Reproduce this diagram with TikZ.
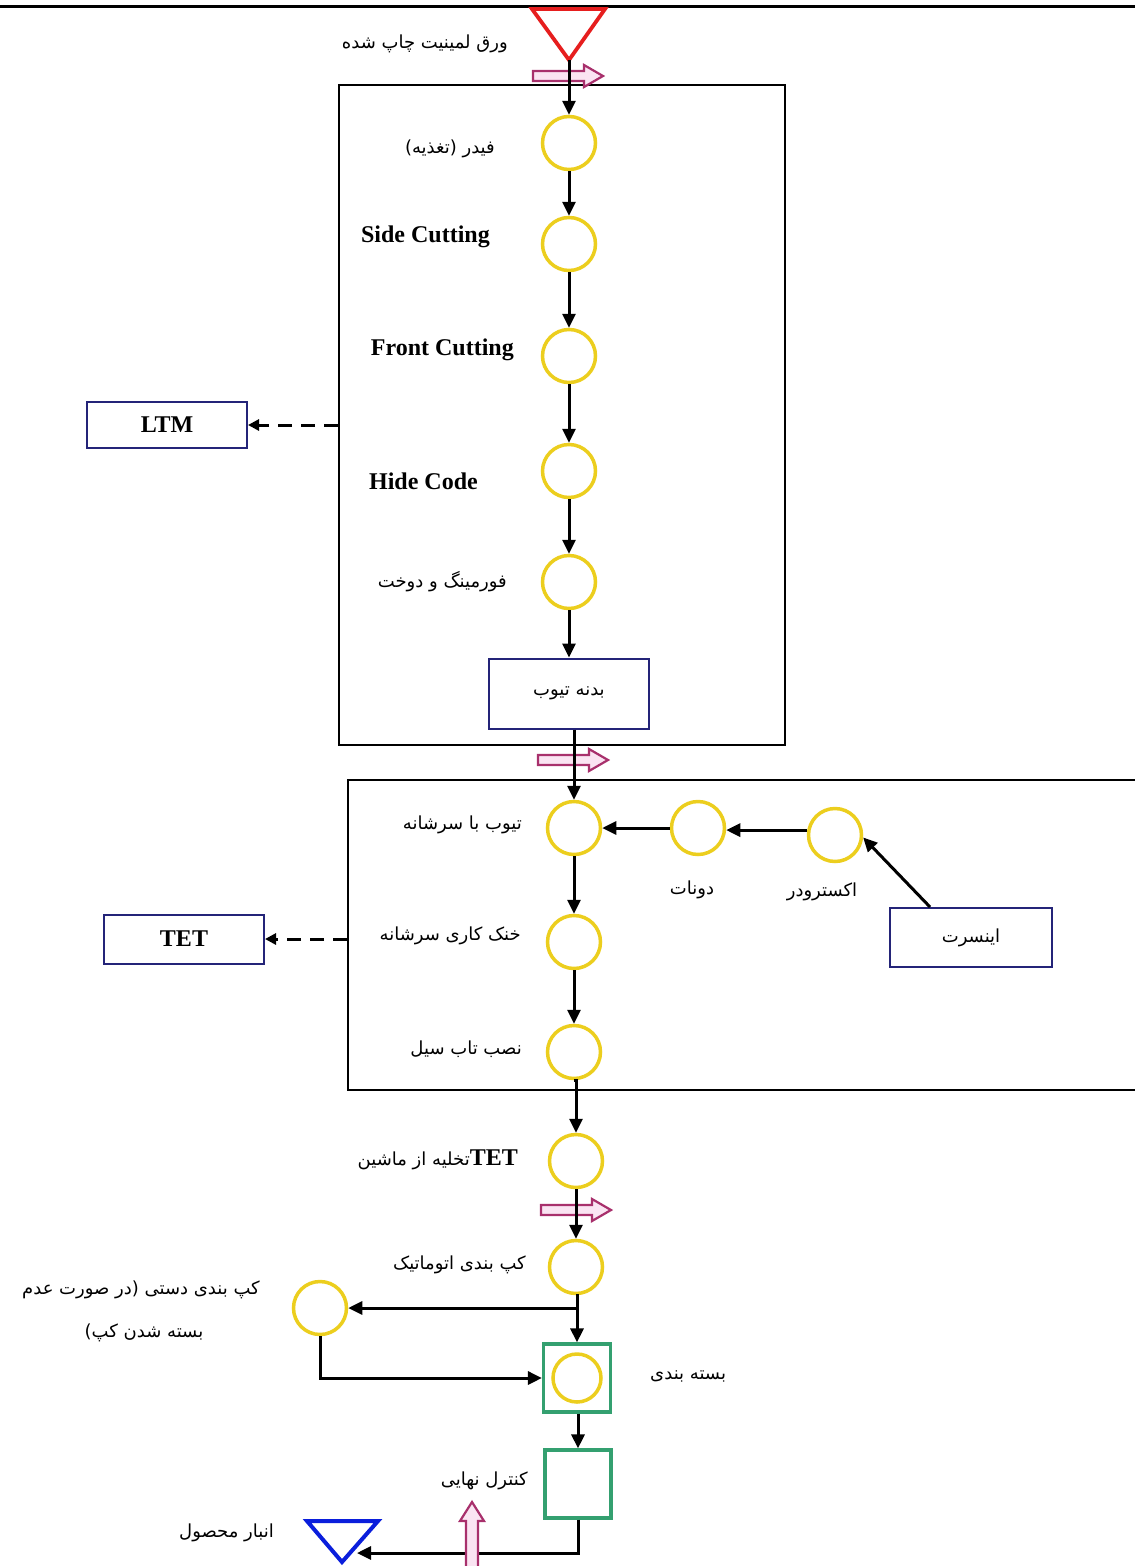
\documentclass[tikz,border=0pt]{standalone}
\usepackage{fontspec}
\setmainfont{Liberation Serif}
\newfontfamily\fa[Script=Arabic]{DejaVu Sans}
\TeXXeTstate=1
\usetikzlibrary{arrows.meta}
\definecolor{ylw}{RGB}{236,206,30}
\definecolor{grn}{RGB}{52,160,112}
\definecolor{nvy}{RGB}{36,36,120}
\definecolor{pinkE}{RGB}{168,48,108}
\definecolor{pinkF}{RGB}{250,228,242}
\definecolor{redT}{RGB}{230,30,30}
\definecolor{bluT}{RGB}{10,30,220}
\tikzset{
 yc/.style={circle, draw=ylw, line width=3.5pt, minimum size=53pt, inner sep=0pt},
 arr/.style={line width=3pt, -{Triangle[length=14pt,width=13pt]}},
 dasharr/.style={line width=3pt, dash pattern=on 14pt off 9pt, -{Triangle[length=11pt,width=11pt]}},
 nbox/.style={draw=nvy, line width=2pt, inner sep=0pt},
 gbox/.style={draw=grn, line width=3.2pt, inner sep=0pt},
 frame/.style={draw=black, line width=1.8pt, inner sep=0pt},
 fatxt/.style={font=\fa\fontsize{18}{21}\selectfont, inner sep=0pt},
 entxt/.style={font=\bfseries\fontsize{24}{28}\selectfont, inner sep=0pt},
 hollow/.style={draw=pinkE, fill=pinkF, line width=2.2pt, line join=miter},
 pics/harrow/.style={code={\draw[hollow] (-35,-5) -- (16,-5) -- (16,-11) -- (35,0) -- (16,11) -- (16,5) -- (-35,5) -- cycle;}},
 pics/uarrow/.style={code={\draw[hollow] (-6,40) -- (-6,-12) -- (-12,-12) -- (0,-31) -- (12,-12) -- (6,-12) -- (6,40) -- cycle;}},
}
\begin{document}
\begin{tikzpicture}[x=1pt,y=-1pt]
\useasboundingbox (0,0) rectangle (1135,1566);
% top rule
\draw[line width=3pt] (0,6) -- (1135,6);
% frames
\node[frame, minimum width=446pt, minimum height=660pt] (box1) at (562,415) {};
\node[frame, minimum width=792pt, minimum height=310pt] (box2) at (744,935) {};
% source triangle
\draw[redT, line width=3.8pt, line join=miter] (532,9) -- (605,9) -- (569,60) -- cycle;
\coordinate (redtip) at (569,60);
\node[fatxt, anchor=east] (lsrc) at (508,44) {\beginR ورق لمینیت چاپ شده\endR};
% pink transport arrows
\pic at (568,76) {harrow};
\pic at (573,760) {harrow};
\pic at (576,1210) {harrow};
% box 1 contents
\node[yc] (c1) at (569,143) {};
\node[yc] (c2) at (569,244) {};
\node[yc] (c3) at (569,356) {};
\node[yc] (c4) at (569,471) {};
\node[yc] (c5) at (569,582) {};
\node[nbox, minimum width=160pt, minimum height=70pt] (body) at (569,693.5) {};
\node[fatxt] (lbody) at (body) {\beginR بدنه تیوب\endR};
\node[fatxt, anchor=east] (l1) at (495,149) {\beginR فیدر (تغذیه)\endR};
\node[entxt, anchor=east] (l2) at (490,237) {Side Cutting};
\node[entxt, anchor=east] (l3) at (514,350) {Front Cutting};
\node[entxt, anchor=east] (l4) at (478,481) {Hide Code};
\node[fatxt, anchor=east] (l5) at (507,582) {\beginR فورمینگ و دوخت\endR};
\node[nbox, entxt, minimum width=160pt, minimum height=46pt] (ltm) at (167,425) {LTM};
% box 2 contents
\node[yc] (c6) at (574,828) {};
\node[yc] (c7) at (698,828) {};
\node[yc] (c8) at (835,835) {};
\node[yc] (c9) at (574,942) {};
\node[yc] (c10) at (574,1052) {};
\node[fatxt, anchor=east] (l6) at (522,825) {\beginR تیوب با سرشانه\endR};
\node[fatxt] (l7) at (692,890) {\beginR دونات\endR};
\node[fatxt] (l8) at (822,892) {\beginR اکسترودر\endR};
\node[fatxt, anchor=east] (l9) at (521,936) {\beginR خنک کاری سرشانه\endR};
\node[fatxt, anchor=east] (l10) at (522,1049) {\beginR نصب تاب سیل\endR};
\node[nbox, minimum width=162pt, minimum height=59pt] (ins) at (971,937.5) {};
\node[fatxt] (lins) at (ins) {\beginR اینسرت\endR};
\node[nbox, entxt, minimum width=160pt, minimum height=49pt] (tet) at (184,939) {TET};
% lower part
\node[yc] (c11) at (576,1161) {};
\node[yc] (c12) at (576,1267) {};
\node[yc] (c13) at (320,1308) {};
\node[gbox, minimum width=67pt, minimum height=68pt] (g1) at (577,1378) {};
\node[yc, minimum size=48pt] (c14) at (g1) {};
\node[gbox, minimum width=66pt, minimum height=68pt] (g2) at (578,1484) {};
\node[fatxt, anchor=east] (l11) at (518,1160) {\beginR{\rmfamily\bfseries\fontsize{24}{28}\selectfont\beginL TET\endL}تخلیه از ماشین\endR};
\node[fatxt, anchor=east] (l12) at (526,1265) {\beginR کپ بندی اتوماتیک\endR};
\node[fatxt] (l13a) at (141,1290) {\beginR کپ بندی دستی (در صورت عدم\endR};
\node[fatxt] (l13b) at (144,1333) {\beginR بسته شدن کپ)\endR};
\node[fatxt, anchor=west] (l14) at (650,1376) {\beginR بسته بندی\endR};
\node[fatxt, anchor=east] (l15) at (528,1481) {\beginR کنترل نهایی\endR};
\node[fatxt, anchor=east] (l16) at (274,1533) {\beginR انبار محصول\endR};
% end triangle
\draw[bluT, line width=4pt, line join=miter] (307,1521) -- (378,1521) -- (342,1562) -- cycle;
\coordinate (bluetip) at (357,1553);
\coordinate (br) at (577,1308);
% connectors
\draw[arr] (redtip) -- (c1.north);
\draw[arr] (c1) -- (c2);
\draw[arr] (c2) -- (c3);
\draw[arr] (c3) -- (c4);
\draw[arr] (c4) -- (c5);
\draw[arr] (c5.south) -- (c5.south |- body.north);
\draw[arr] (body.south -| c6) -- (c6.north);
\draw[arr] (c8.170) -- (c8.170 -| c7.east);
\draw[arr] (c7) -- (c6);
\draw[arr] ([xshift=-41pt]ins.north) -- (c8.-5);
\draw[arr] (c6) -- (c9);
\draw[arr] (c9) -- (c10);
\draw[arr] (c10.south) -- (c10.south -| c11) -- (c11.north);
\draw[arr] (c11) -- (c12);
\draw[arr] (c12.south) -- (c12.south -| g1) -- (g1.north);
\draw[arr] (br) -- (c13);
\draw[arr] (c13.south) |- (g1.west);
\draw[arr] (g1.south -| g2) -- (g2.north);
\draw[arr] (g2.south) |- (bluetip);
\draw[dasharr] (box1.west |- ltm) -- (ltm.east);
\draw[dasharr] (box2.west |- tet) -- (tet.east);
\pic at (472,1533) {uarrow};
\end{tikzpicture}
\end{document}
